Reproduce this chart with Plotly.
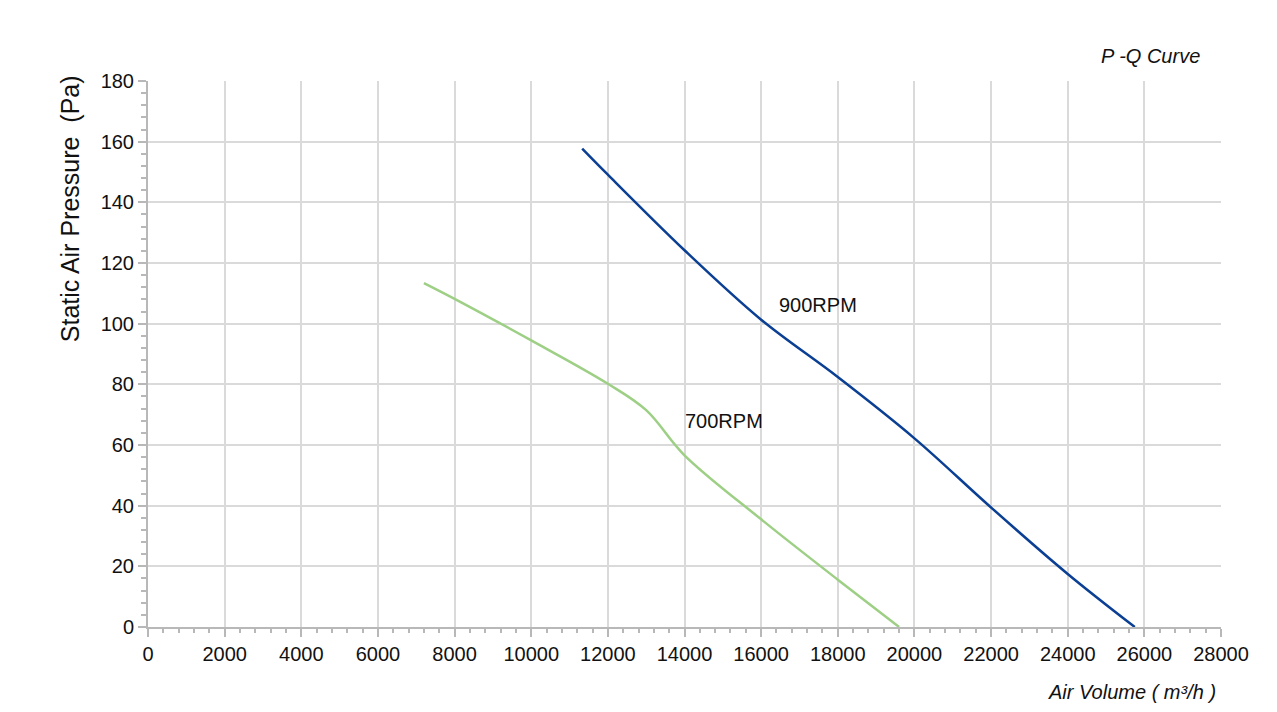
import plotly.graph_objects as go

# Data
q_700 = [7200, 8000, 10000, 12000, 13000, 14000, 16000, 18000, 19600]
p_700 = [113.4, 108.2, 94.5, 80.2, 71.5, 56.6, 35.5, 15.6, 0]

q_900 = [11330, 12000, 14000, 16000, 18000, 20000, 22000, 24000, 25750]
p_900 = [157.7, 149.1, 124.2, 101.3, 82.4, 62.2, 39.4, 17.5, 0]

labels = ["700RPM", "900RPM"]
label_pos_x = [15020, 17480]
label_pos_y = [68.0, 106.2]

x_ticks = list(range(0, 28001, 2000))
y_ticks = list(range(0, 181, 20))

FONT = "Liberation Sans, Arial, sans-serif"
TXT = "#111111"

fig = go.Figure()
fig.add_trace(go.Scatter(x=q_700, y=p_700, mode="lines",
                         line=dict(color="#9dcf85", width=2.5, shape="spline", smoothing=1.0),
                         hoverinfo="skip", showlegend=False))
fig.add_trace(go.Scatter(x=q_900, y=p_900, mode="lines",
                         line=dict(color="#0a3f94", width=2.5, shape="spline", smoothing=1.0),
                         hoverinfo="skip", showlegend=False))

for t, xx, yy in zip(labels, label_pos_x, label_pos_y):
    fig.add_annotation(x=xx, y=yy, text=t, showarrow=False, xanchor="center",
                       yanchor="middle", font=dict(size=20, color=TXT, family=FONT))

axis_common = dict(showline=True, linecolor="#b8b8b8", linewidth=2, gridcolor="#dadada",
                   gridwidth=1.5, ticks="outside", ticklen=8, tickcolor="#b8b8b8",
                   tickwidth=2, tickfont=dict(size=20, color=TXT, family=FONT),
                   zeroline=False, fixedrange=True)

fig.update_xaxes(range=[0, 28000], tickvals=x_ticks, ticktext=[str(v) for v in x_ticks],
                 minor=dict(dtick=400, tick0=0, ticks="outside", ticklen=4,
                            tickcolor="#b8b8b8", tickwidth=2, showgrid=False),
                 **axis_common)
fig.update_yaxes(range=[0, 180], tickvals=y_ticks, ticktext=[str(v) for v in y_ticks],
                 minor=dict(dtick=4, tick0=0, ticks="outside", ticklen=5,
                            tickcolor="#b8b8b8", tickwidth=2, showgrid=False),
                 **axis_common)

# Titles
fig.add_annotation(xref="paper", yref="paper", x=0.982, y=1.0458, xanchor="right",
                   yanchor="middle", showarrow=False, text="<i>P -Q Curve</i>",
                   font=dict(size=20, color=TXT, family=FONT))
fig.add_annotation(xref="paper", yref="paper", x=0.997, y=-0.119, xanchor="right",
                   yanchor="middle", showarrow=False, text="<i>Air Volume ( m³/h )</i>",
                   font=dict(size=20, color=TXT, family=FONT))
fig.add_annotation(xref="paper", yref="paper", x=-0.0727, y=0.767, xanchor="center",
                   yanchor="middle", showarrow=False, textangle=-90,
                   text="Static Air Pressure  (Pa)",
                   font=dict(size=25, color=TXT, family=FONT))

# page body has an 8px margin, so margins are offset accordingly
fig.update_layout(width=1277, height=712, plot_bgcolor="white", paper_bgcolor="white",
                  margin=dict(l=140, r=64, t=73, b=93), showlegend=False)

fig.write_html("out.html")
